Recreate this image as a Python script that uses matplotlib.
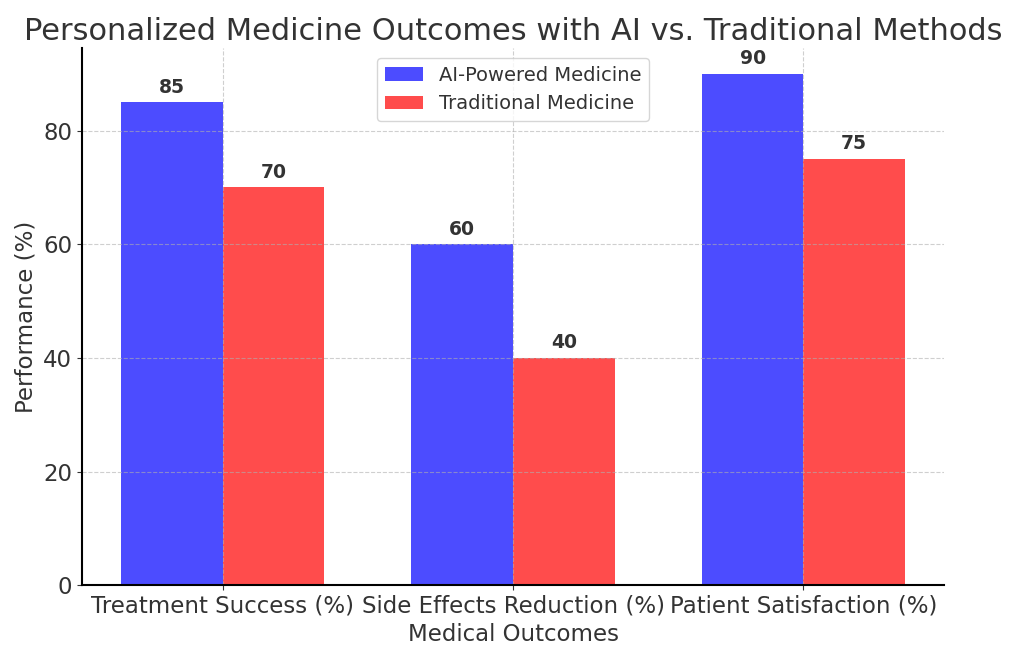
import numpy as np
import matplotlib.pyplot as plt

categories = ["Treatment Success (%)", "Side Effects Reduction (%)", "Patient Satisfaction (%)"]
ai_values = [85, 60, 90]
traditional_values = [70, 40, 75]

TEXT = "#333333"
plt.rcParams["text.color"] = TEXT
plt.rcParams["axes.labelcolor"] = TEXT
plt.rcParams["xtick.color"] = TEXT
plt.rcParams["ytick.color"] = TEXT

x = np.arange(len(categories))
width = 0.35

fig, ax = plt.subplots(figsize=(10.23, 6.59), dpi=100)
bars_ai = ax.bar(x - width / 2, ai_values, width, label="AI-Powered Medicine", color="blue", alpha=0.7)
bars_trad = ax.bar(x + width / 2, traditional_values, width, label="Traditional Medicine", color="red", alpha=0.7)

for bars in (bars_ai, bars_trad):
    for bar in bars:
        h = bar.get_height()
        ax.annotate(f"{h}", xy=(bar.get_x() + bar.get_width() / 2, h),
                    xytext=(0, 4), textcoords="offset points",
                    ha="center", va="bottom", fontsize=13.5, fontweight="bold")

ax.set_title("Personalized Medicine Outcomes with AI vs. Traditional Methods", fontsize=22)
ax.set_xlabel("Medical Outcomes", fontsize=16.5)
ax.set_ylabel("Performance (%)", fontsize=16.5)
ax.set_xticks(x)
ax.set_xticklabels(categories, fontsize=16.5)
ax.tick_params(axis="y", labelsize=16.5)
ax.legend(loc="upper center", fontsize=14)
ax.grid(True, linestyle="--", alpha=0.6)
ax.spines["top"].set_visible(False)
ax.spines["right"].set_visible(False)
ax.spines["left"].set_linewidth(1.5)
ax.spines["bottom"].set_linewidth(1.5)

plt.subplots_adjust(left=0.08, right=0.923, top=0.927, bottom=0.112)
plt.savefig("out.png")
